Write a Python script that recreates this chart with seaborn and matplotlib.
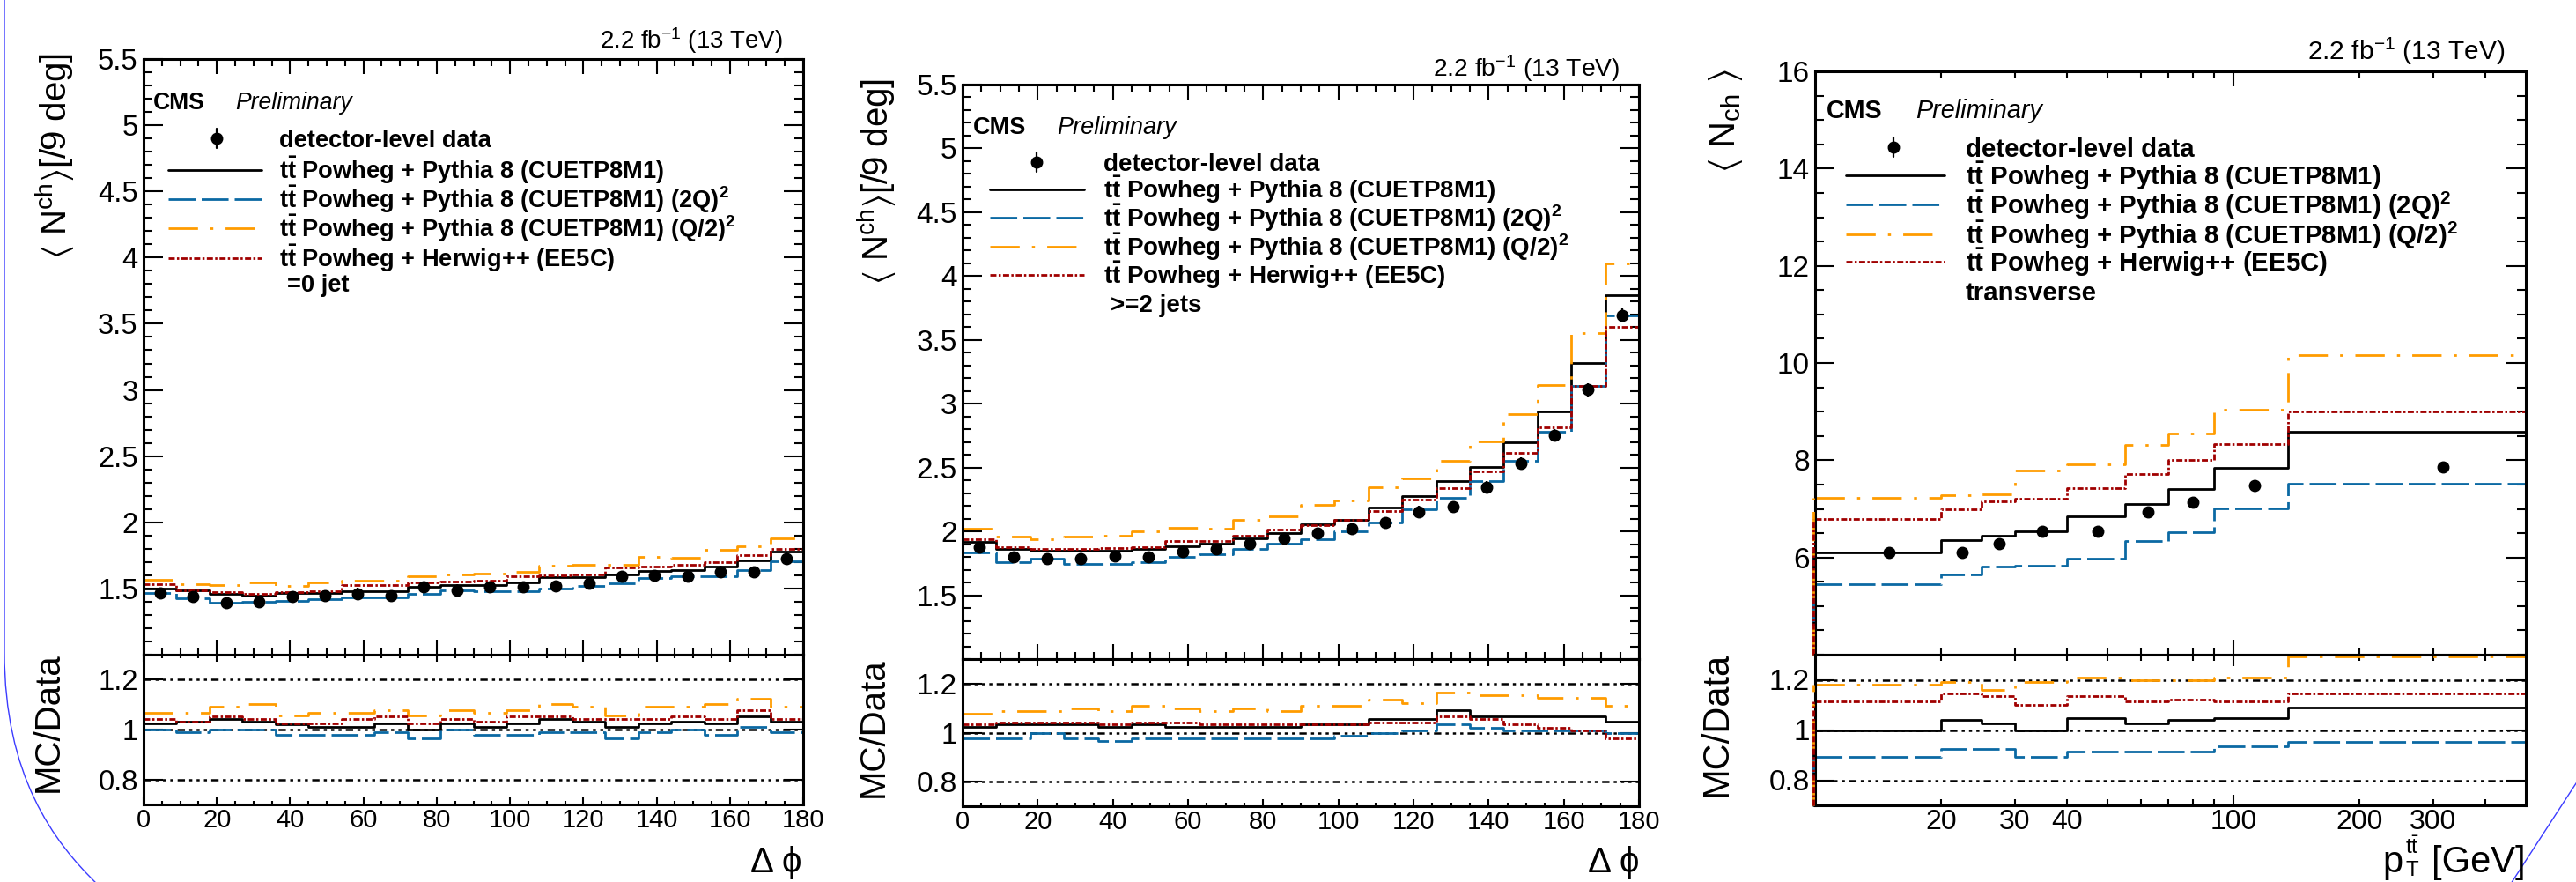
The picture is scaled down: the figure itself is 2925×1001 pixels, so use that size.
import numpy as np
import pandas as pd
import matplotlib
matplotlib.use("Agg")
import matplotlib.pyplot as plt
import seaborn as sns
from matplotlib.path import Path
from matplotlib.patches import PathPatch
from matplotlib.lines import Line2D
from matplotlib.ticker import FixedLocator, MultipleLocator, FuncFormatter, NullFormatter
import matplotlib.transforms as mtransforms

# ---------------------------------------------------------------- values
dphi_edges = [0, 9, 18, 27, 36, 45, 54, 63, 72, 81, 90, 99, 108, 117, 126,
              135, 144, 153, 162, 171, 180]

# =0 jet : <N_ch>/[9 deg] vs delta phi
data_0jet = [1.466, 1.440, 1.395, 1.400, 1.440, 1.448, 1.462, 1.448, 1.511, 1.489,
             1.511, 1.511, 1.516, 1.538, 1.590, 1.596, 1.590, 1.628, 1.623, 1.724]
err_0jet = [0.040, 0.040, 0.041, 0.040, 0.040, 0.040, 0.041, 0.041, 0.041, 0.041,
            0.041, 0.042, 0.042, 0.042, 0.043, 0.043, 0.043, 0.044, 0.044, 0.046]
ratio_0jet_p8 = [1.023, 1.032, 1.044, 1.032, 1.020, 1.011, 1.011, 1.023, 1.000, 1.023,
                 1.011, 1.023, 1.044, 1.032, 1.011, 1.023, 1.032, 1.023, 1.054, 1.032]
ratio_0jet_2q = [1.000, 0.989, 1.000, 1.000, 0.978, 0.978, 0.978, 0.989, 0.966, 1.000,
                 0.978, 0.978, 0.989, 0.989, 0.966, 0.989, 1.000, 0.978, 1.011, 0.989]
ratio_0jet_q2 = [1.066, 1.066, 1.092, 1.102, 1.056, 1.066, 1.066, 1.078, 1.056, 1.078,
                 1.066, 1.078, 1.102, 1.090, 1.056, 1.090, 1.090, 1.102, 1.122, 1.090]
ratio_0jet_hw = [1.044, 1.032, 1.054, 1.044, 1.023, 1.023, 1.044, 1.054, 1.023, 1.044,
                 1.032, 1.054, 1.054, 1.044, 1.044, 1.044, 1.054, 1.044, 1.078, 1.044]

# >=2 jets : <N_ch>/[9 deg] vs delta phi
data_2jet = [1.878, 1.801, 1.785, 1.785, 1.808, 1.801, 1.843, 1.861, 1.905, 1.947,
             1.986, 2.023, 2.069, 2.155, 2.194, 2.346, 2.531, 2.755, 3.109, 3.690]
err_2jet = [0.040, 0.038, 0.038, 0.038, 0.038, 0.038, 0.039, 0.039, 0.040, 0.040,
            0.041, 0.041, 0.042, 0.043, 0.044, 0.045, 0.047, 0.049, 0.052, 0.056]
ratio_2jet_p8 = [1.022, 1.035, 1.035, 1.035, 1.022, 1.035, 1.022, 1.022, 1.022, 1.022,
                 1.035, 1.035, 1.057, 1.057, 1.090, 1.067, 1.067, 1.067, 1.067, 1.044]
ratio_2jet_2q = [0.977, 0.977, 1.000, 0.977, 0.967, 0.977, 0.977, 0.977, 0.977, 0.977,
                 0.977, 0.988, 1.000, 1.010, 1.033, 1.021, 1.010, 1.010, 1.010, 1.000]
ratio_2jet_q2 = [1.077, 1.088, 1.088, 1.099, 1.088, 1.110, 1.099, 1.088, 1.099, 1.088,
                 1.110, 1.110, 1.133, 1.121, 1.165, 1.154, 1.154, 1.143, 1.143, 1.110]
ratio_2jet_hw = [1.033, 1.043, 1.043, 1.043, 1.033, 1.043, 1.043, 1.033, 1.033, 1.033,
                 1.033, 1.033, 1.043, 1.043, 1.067, 1.054, 1.033, 1.021, 1.010, 0.977]

# transverse region : <N_ch> vs pT(ttbar)
pt_edges = [10, 20, 25, 30, 40, 55, 70, 90, 135, 500]
data_trans = [6.11, 6.11, 6.29, 6.54, 6.54, 6.93, 7.13, 7.48, 7.87]
err_trans = [0.05, 0.05, 0.05, 0.05, 0.05, 0.06, 0.06, 0.06, 0.07]
ratio_trans_p8 = [1.000, 1.039, 1.025, 1.000, 1.048, 1.025, 1.039, 1.048, 1.090]
ratio_trans_2q = [0.892, 0.924, 0.924, 0.892, 0.915, 0.915, 0.915, 0.936, 0.954]
ratio_trans_q2 = [1.182, 1.191, 1.159, 1.191, 1.209, 1.200, 1.200, 1.209, 1.292]
ratio_trans_hw = [1.113, 1.145, 1.136, 1.101, 1.136, 1.113, 1.122, 1.113, 1.145]

data_label = "detector-level data"
model_labels = [r"t$\bar{t}$ Powheg + Pythia 8 (CUETP8M1)",
                r"t$\bar{t}$ Powheg + Pythia 8 (CUETP8M1) (2Q)$^{2}$",
                r"t$\bar{t}$ Powheg + Pythia 8 (CUETP8M1) (Q/2)$^{2}$",
                r"t$\bar{t}$ Powheg + Herwig++ (EE5C)"]
region_labels = ["=0 jet", ">=2 jets", "transverse"]
lumi_label = r"2.2 fb$^{-1}$ (13 TeV)"

# ---------------------------------------------------------------- style
W, H, DPI = 2925, 1001, 100
sns.set_theme(style="ticks")
FONT = ["Liberation Sans", "DejaVu Sans"]
plt.rcParams.update({
    "font.family": FONT,
    "mathtext.fontset": "custom",
    "mathtext.rm": "Liberation Sans",
    "mathtext.it": "Liberation Sans:italic",
    "mathtext.bf": "Liberation Sans:bold",
    "mathtext.default": "regular",
    "mathtext.fallback": "stixsans",
    "lines.scale_dashes": False,
    "axes.linewidth": 2.2,
    "axes.edgecolor": "black",
    "text.color": "black",
    "xtick.color": "black",
    "ytick.color": "black",
})

MODEL_STYLES = [
    dict(color="black", dashes=None),
    dict(color="#0b69a3", dashes=(22, 5)),
    dict(color="#ff9c00", dashes=(24, 10, 2.5, 10)),
    dict(color="#a00000", dashes=(5, 1.8, 1.8, 1.8)),
]
MC_LW = 2.0
REF_DASHES = (6, 3.5, 2.5, 3.5, 2.5, 3.5, 2.5, 3.5)

fig = plt.figure(figsize=(W / DPI, H / DPI), dpi=DPI)
fig.patch.set_facecolor("white")


def fx(x):
    return x / W


def fy(y):
    return 1 - y / H


def axes_px(x0, x1, y0, y1):
    return fig.add_axes([fx(x0), fy(y1), (x1 - x0) / W, (y1 - y0) / H])


def text_px(x, y, s, size, ha="left", weight="normal", style="normal",
            rotation=0, va=None):
    if va is None:
        # y is the visual centre of capitals -> place baseline below it
        yb = y + 0.36 * size * DPI / 72
        fig.text(fx(x), fy(yb), s, fontsize=size, ha=ha, va="baseline",
                 fontweight=weight, fontstyle=style, family=FONT)
    else:
        fig.text(fx(x), fy(y), s, fontsize=size, ha=ha, va=va,
                 rotation=rotation, fontweight=weight, fontstyle=style,
                 family=FONT)


def step_hist(ax, edges, values, style, zorder=2):
    frame = pd.DataFrame({"edge": np.asarray(edges, float),
                          "value": np.append(values, values[-1])})
    sns.lineplot(data=frame, x="edge", y="value", ax=ax, color=style["color"],
                 lw=MC_LW, drawstyle="steps-post", estimator=None, sort=False,
                 legend=False, zorder=zorder)
    line = ax.lines[-1]
    if style["dashes"] is not None:
        line.set_dashes(style["dashes"])
    return line


def fmt_g(v, pos):
    return f"{v:g}"


def draw_panel(cfg):
    edges = np.asarray(cfg["edges"], float)
    data = np.asarray(cfg["data"], float)
    ratios = [np.asarray(r, float) for r in cfg["ratios"]]
    preds = [data * r for r in ratios]
    if cfg["log"]:
        centres = np.asarray(cfg["centres"], float)
    else:
        centres = 0.5 * (edges[1:] + edges[:-1])

    main = axes_px(cfg["x0"], cfg["x1"], cfg["top"], cfg["mid"])
    rat = axes_px(cfg["x0"], cfg["x1"], cfg["mid"], cfg["bot"])
    for ax in (main, rat):
        if cfg["log"]:
            ax.set_xscale("log")
        ax.set_facecolor("white")
        for sp in ax.spines.values():
            sp.set_linewidth(2.2)
            sp.set_zorder(2.5)

    # --- main pad
    for pred, st in zip(preds, MODEL_STYLES):
        step_hist(main, edges, pred, st)
    main.errorbar(centres, data, yerr=cfg["err"], fmt="o", color="black",
                  ms=9, elinewidth=1.6, capsize=0, zorder=5)

    # --- ratio pad
    for yref in (0.8, 1.0, 1.2):
        rat.axhline(yref, color="black", lw=1.8, dashes=REF_DASHES, zorder=1.5)
    for r, st in zip(ratios, MODEL_STYLES):
        step_hist(rat, edges, r, st)

    # left edge rise of the histograms on the log axis
    if cfg["log"]:
        shift = mtransforms.ScaledTranslation(-2 / DPI, 0, fig.dpi_scale_trans)
        for ax, series, y0 in ((main, preds, cfg["ylim"][0]), (rat, ratios, 0.7)):
            for vals, st in zip(series, MODEL_STYLES):
                ln, = ax.plot([edges[0], edges[0]], [y0, vals[0]],
                              color=st["color"], lw=MC_LW,
                              transform=ax.transData + shift, clip_on=False,
                              zorder=2.6)
                if st["dashes"] is not None:
                    ln.set_dashes(st["dashes"])

    # --- limits and ticks
    main.set_xlim(edges[0], edges[-1])
    rat.set_xlim(edges[0], edges[-1])
    main.set_ylim(*cfg["ylim"])
    rat.set_ylim(0.7, 1.3)

    main.yaxis.set_major_locator(FixedLocator(cfg["yticks"]))
    main.yaxis.set_minor_locator(MultipleLocator(cfg["yminor"]))
    main.yaxis.set_major_formatter(FuncFormatter(fmt_g))
    rat.yaxis.set_major_locator(FixedLocator([0.8, 1.0, 1.2]))
    rat.yaxis.set_minor_locator(FixedLocator([]))
    rat.yaxis.set_major_formatter(FuncFormatter(fmt_g))

    if cfg["log"]:
        shown = {20, 30, 40, 200, 300}
        for ax in (main, rat):
            ax.xaxis.set_major_locator(FixedLocator([100]))
            ax.xaxis.set_minor_locator(FixedLocator(
                [20, 30, 40, 50, 60, 70, 80, 90, 200, 300, 400]))
        rat.xaxis.set_major_formatter(FuncFormatter(fmt_g))
        rat.xaxis.set_minor_formatter(FuncFormatter(
            lambda v, p: f"{v:g}" if round(v) in shown else ""))
        main.xaxis.set_minor_formatter(NullFormatter())
    else:
        for ax in (main, rat):
            ax.xaxis.set_major_locator(MultipleLocator(20))
            ax.xaxis.set_minor_locator(MultipleLocator(5))
        rat.xaxis.set_major_formatter(FuncFormatter(fmt_g))
    main.xaxis.set_major_formatter(NullFormatter())

    for ax in (main, rat):
        ax.set_xlabel("")
        ax.set_ylabel("")
        ax.tick_params(which="both", direction="in", top=True, right=True,
                       width=1.5, zorder=3)
        ax.tick_params(axis="y", which="major", length=16, pad=4.5,
                       labelsize=cfg["ysize"])
        ax.tick_params(axis="y", which="minor", length=7)
    main.tick_params(axis="x", which="major", length=12)
    main.tick_params(axis="x", which="minor", length=6)
    rat.tick_params(axis="x", which="major", length=6, pad=3,
                    labelsize=cfg["xsize"])
    rat.tick_params(axis="x", which="minor", length=3, pad=3,
                    labelsize=cfg["xsize"])
    if cfg["log"]:
        rat.tick_params(axis="x", which="major", length=9)
        rat.tick_params(axis="x", which="minor", length=5)

    # --- texts
    s = cfg["scale"]
    text_px(cfg["lumi"][0], cfg["lumi"][1], lumi_label, 20.3 * s, ha="right")
    text_px(cfg["cms"][0], cfg["cms"][2], "CMS", 19.5 * s, weight="bold")
    text_px(cfg["cms"][1], cfg["cms"][2], "Preliminary", 19.5 * s, style="italic")

    lx0, lx1, mx, tx = cfg["leg_x"]
    rows = cfg["leg_rows"]
    # data entry
    fig.add_artist(Line2D([fx(mx), fx(mx)], [fy(rows[0] - 11), fy(rows[0] + 11)],
                          transform=fig.transFigure, color="black", lw=1.6))
    fig.add_artist(Line2D([fx(mx)], [fy(rows[0])], transform=fig.transFigure,
                          marker="o", ms=9, color="black", lw=0))
    text_px(tx, rows[0], data_label, 20 * s, weight="bold")
    for yrow, lab, st in zip(rows[1:], model_labels, MODEL_STYLES):
        ln = Line2D([fx(lx0), fx(lx1)], [fy(yrow), fy(yrow)],
                    transform=fig.transFigure, color=st["color"], lw=MC_LW)
        if st["dashes"] is not None:
            ln.set_dashes(st["dashes"])
        fig.add_artist(ln)
        text_px(tx, yrow, lab, 20 * s, weight="bold")
    text_px(cfg["region"][0], cfg["region"][1], cfg["region_label"], 20 * s,
            weight="bold")

    text_px(cfg["ylab"][0], cfg["ylab"][1], cfg["ylabel"], cfg["ylab"][2],
            ha="center", va="top", rotation=90)
    text_px(cfg["rlab"][0], cfg["rlab"][1], "MC/Data", cfg["rlab"][2],
            ha="center", va="top", rotation=90)
    if cfg["xlabel"] is not None:
        text_px(cfg["xlab"][0], cfg["xlab"][1], cfg["xlabel"], cfg["xlab"][2],
                ha="right")
    else:
        # p_T^{tt} [GeV] assembled piecewise so the scripts sit close to "p"
        xr, yb, size = cfg["xlab"]
        small = size * 0.58
        fig.text(fx(xr), fy(yb), "[GeV]", fontsize=size, ha="right",
                 va="baseline", family=FONT)
        fig.text(fx(xr - 140), fy(yb), "p", fontsize=size, ha="right",
                 va="baseline", family=FONT)
        fig.text(fx(xr - 137), fy(yb - 21), r"t$\bar{t}$", fontsize=small,
                 ha="left", va="baseline", family=FONT)
        fig.text(fx(xr - 137), fy(yb + 4), "T", fontsize=small,
                 ha="left", va="baseline", family=FONT)


panels = [
    dict(edges=dphi_edges, data=data_0jet, err=err_0jet,
         ratios=[ratio_0jet_p8, ratio_0jet_2q, ratio_0jet_q2, ratio_0jet_hw],
         log=False, x0=163, x1=912, top=67, mid=743, bot=913,
         ylim=(1.0, 5.5), yticks=[1.5, 2, 2.5, 3, 3.5, 4, 4.5, 5, 5.5], yminor=0.1,
         ysize=23.5, xsize=21, scale=0.98,
         lumi=(889, 45), cms=(174, 267, 114),
         leg_x=(191, 297, 246, 317), leg_rows=[157, 193, 226, 259, 293],
         region=(326, 321), region_label=region_labels[0],
         ylab=(62, 60, 29), ylabel=r"$\langle$ N$^{ch}$$\rangle$[/9 deg]",
         rlab=(55, 740, 29), xlab=(911, 975, 29), xlabel="Δ ϕ"),
    dict(edges=dphi_edges, data=data_2jet, err=err_2jet,
         ratios=[ratio_2jet_p8, ratio_2jet_2q, ratio_2jet_q2, ratio_2jet_hw],
         log=False, x0=1093, x1=1861, top=96, mid=748, bot=915,
         ylim=(1.0, 5.5), yticks=[1.5, 2, 2.5, 3, 3.5, 4, 4.5, 5, 5.5], yminor=0.1,
         ysize=24, xsize=21, scale=1.0,
         lumi=(1839, 77), cms=(1105, 1200, 142),
         leg_x=(1124, 1231, 1177, 1253), leg_rows=[184, 215, 247, 280, 312],
         region=(1261, 344), region_label=region_labels[1],
         ylab=(995, 89, 29), ylabel=r"$\langle$ N$^{ch}$$\rangle$[/9 deg]",
         rlab=(992, 746, 29), xlab=(1861, 976, 29), xlabel="Δ ϕ"),
    dict(edges=pt_edges, centres=[15, 22.5, 27.5, 35, 47.5, 62.5, 80, 112.5, 317.5],
         data=data_trans, err=err_trans,
         ratios=[ratio_trans_p8, ratio_trans_2q, ratio_trans_q2, ratio_trans_hw],
         log=True, x0=2061, x1=2868, top=81, mid=743, bot=914,
         ylim=(4.0, 16.0), yticks=[6, 8, 10, 12, 14, 16], yminor=0.5,
         ysize=24, xsize=23, scale=1.06,
         lumi=(2844, 57), cms=(2074, 2175, 124),
         leg_x=(2096, 2208, 2150, 2232), leg_rows=[167, 199, 232, 266, 297],
         region=(2232, 330), region_label=region_labels[2],
         ylab=(1960, 78, 30), ylabel=r"$\langle$ N$_{ch}$ $\rangle$",
         rlab=(1950, 740, 30), xlab=(2868, 990, 30), xlabel=None),
]

for cfg in panels:
    draw_panel(cfg)

# slide frame arcs at the left and bottom-right borders
arc_left = [(5, -3), (5, 740), (5, 880), (60, 955), (112, 1005)]
arc_right = [(2927, 886), (2893, 938), (2851, 1003)]
for pts, codes in ((arc_left, [Path.MOVETO, Path.LINETO, Path.CURVE4, Path.CURVE4, Path.CURVE4]),
                   (arc_right, [Path.MOVETO, Path.CURVE3, Path.CURVE3])):
    verts = [(fx(x), fy(y)) for x, y in pts]
    fig.add_artist(PathPatch(Path(verts, codes), transform=fig.transFigure,
                             fill=False, edgecolor="#3b3bff", lw=1.0))

fig.savefig("out.png", dpi=DPI, facecolor="white")
